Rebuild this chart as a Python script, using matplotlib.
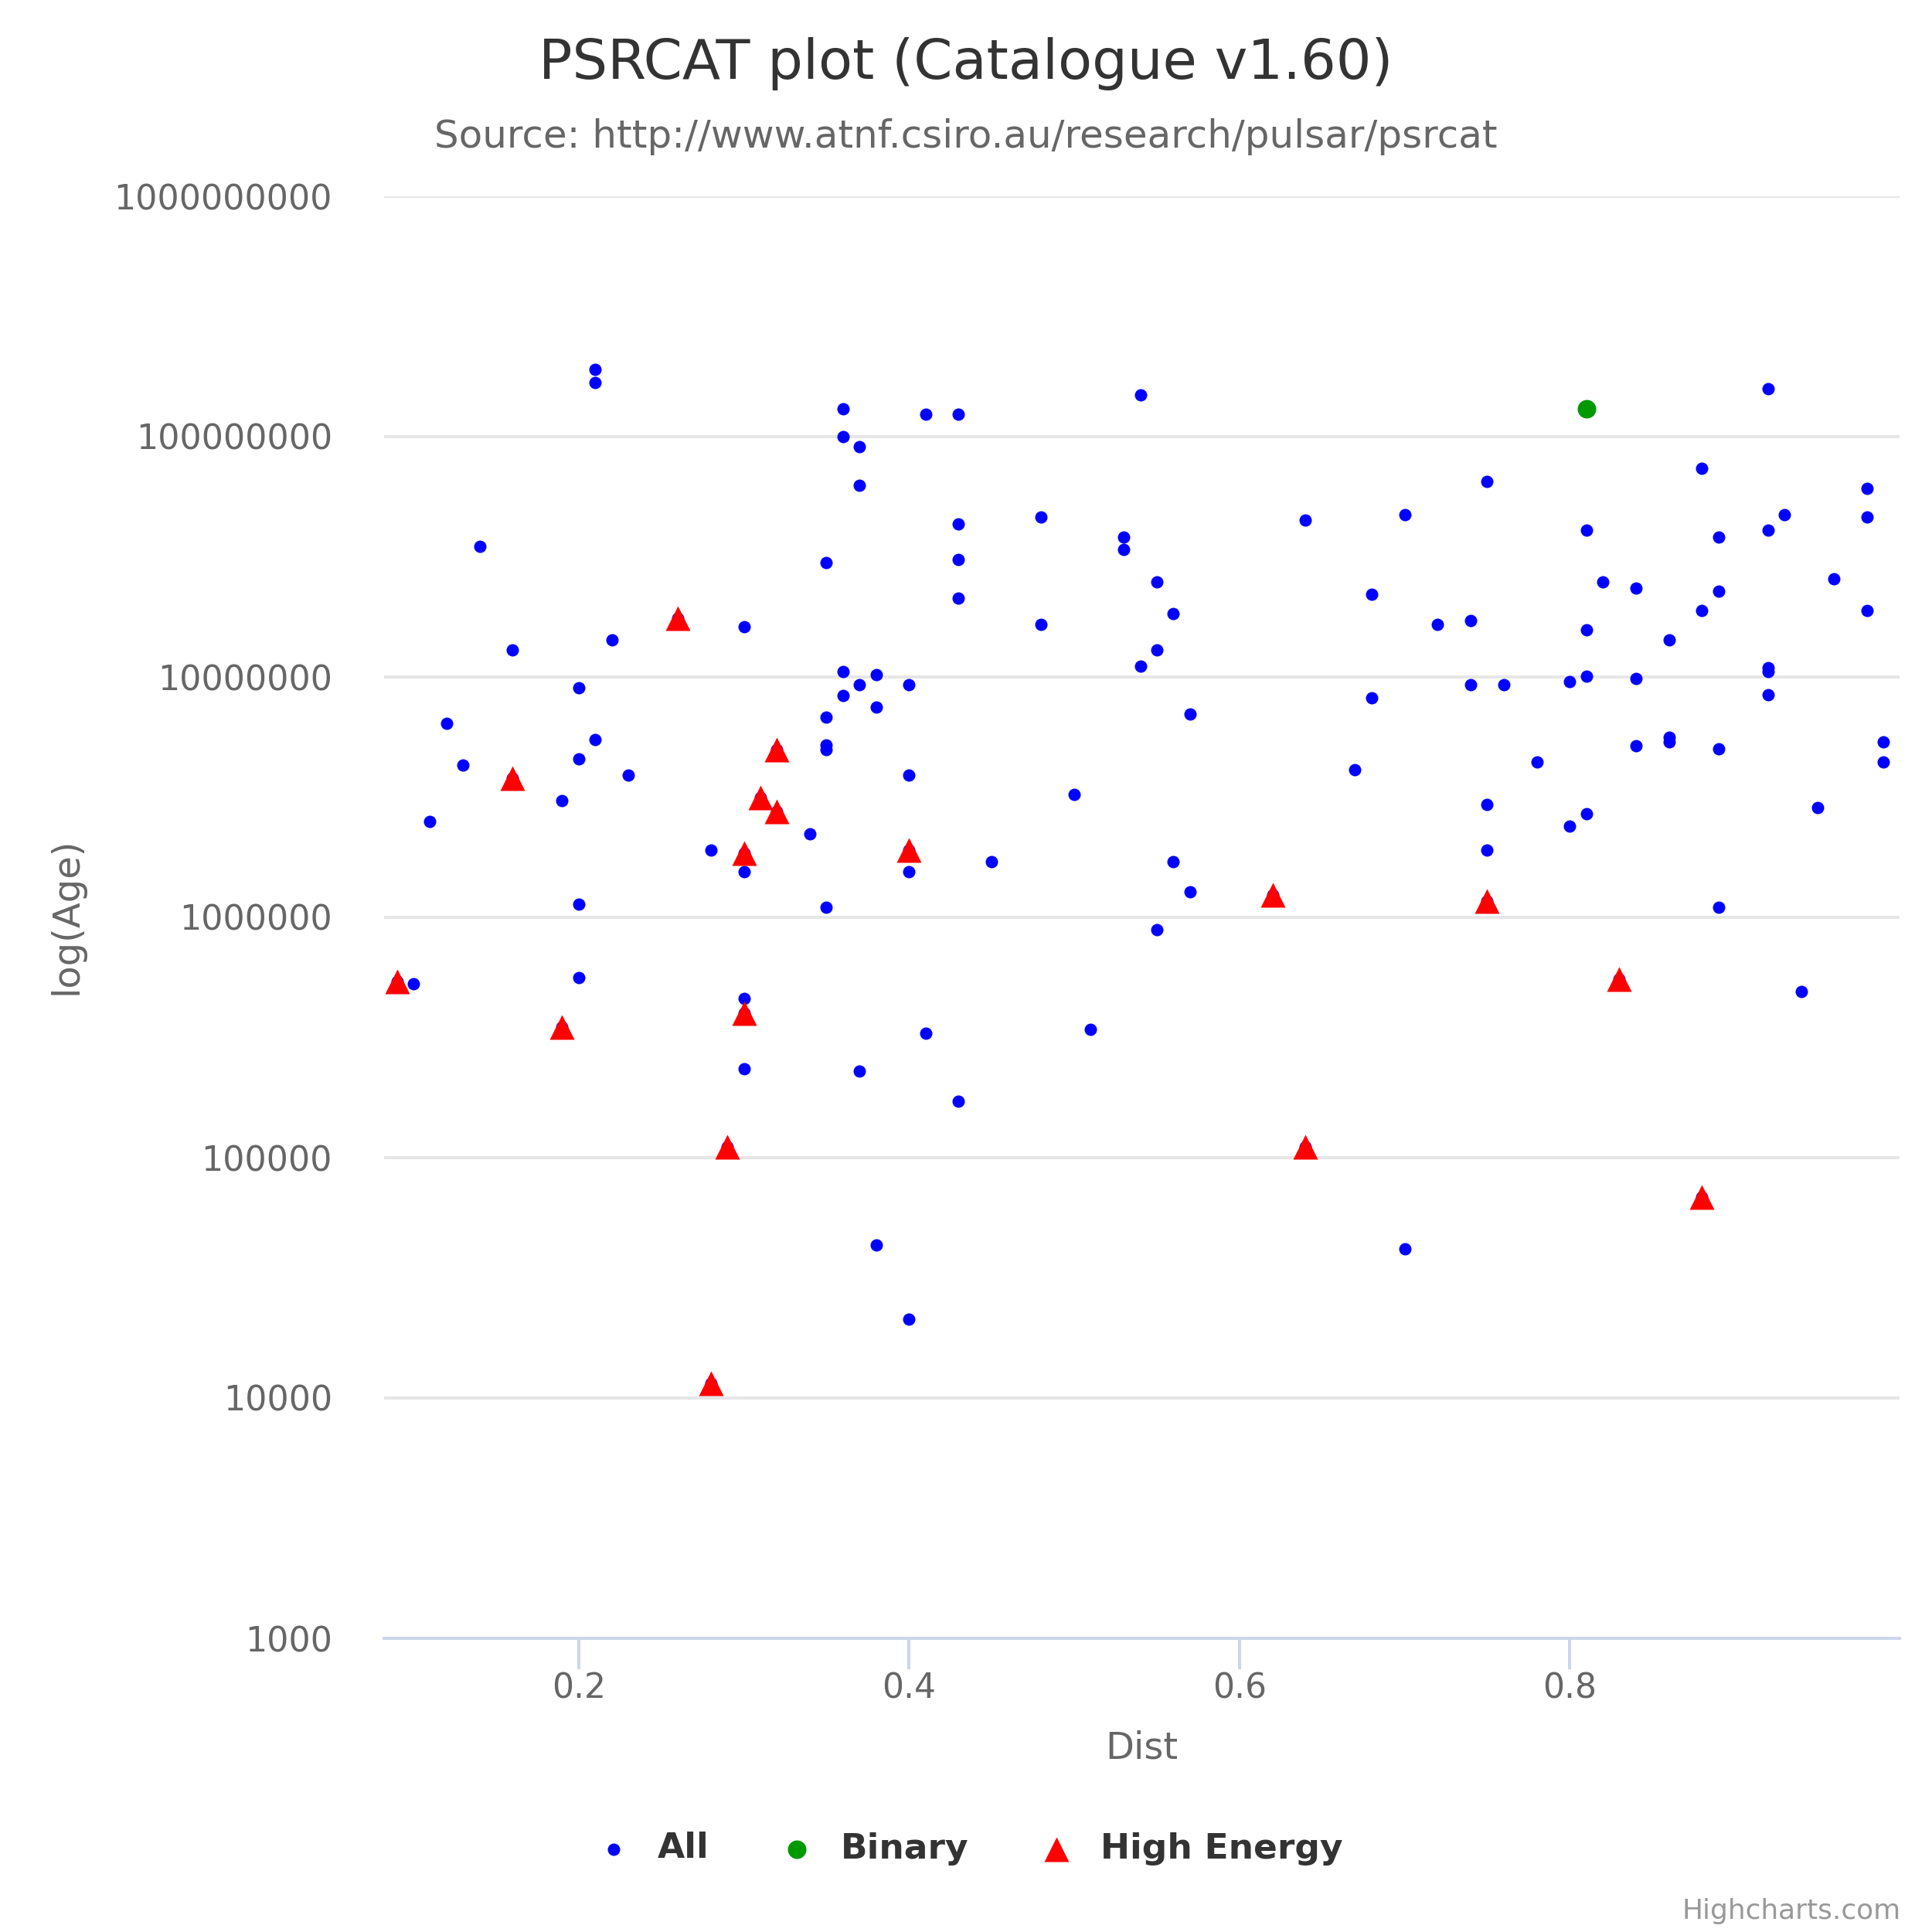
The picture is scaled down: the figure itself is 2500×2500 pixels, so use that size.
import numpy as np
import matplotlib
matplotlib.use("Agg")
import matplotlib.pyplot as plt
from matplotlib.ticker import FixedLocator, FuncFormatter, NullLocator

# data (Dist, Age)
all_dist = [0.09, 0.10, 0.11, 0.12, 0.13, 0.14, 0.16, 0.16, 0.19, 0.19,
            0.20, 0.20, 0.20, 0.20, 0.21, 0.21, 0.21, 0.22, 0.23, 0.26,
            0.28, 0.28, 0.29, 0.30, 0.30, 0.30, 0.30, 0.30, 0.30, 0.31,
            0.32, 0.32, 0.34, 0.35, 0.35, 0.35, 0.35, 0.35, 0.36, 0.36,
            0.36, 0.36, 0.37, 0.37, 0.37, 0.37, 0.38, 0.38, 0.38, 0.40,
            0.40, 0.40, 0.40, 0.40, 0.41, 0.41, 0.43, 0.43, 0.43, 0.43,
            0.43, 0.45, 0.48, 0.48, 0.50, 0.51, 0.53, 0.53, 0.54, 0.54,
            0.55, 0.55, 0.55, 0.56, 0.56, 0.57, 0.57, 0.62, 0.64, 0.64,
            0.67, 0.68, 0.68, 0.70, 0.70, 0.72, 0.74, 0.74, 0.75, 0.75,
            0.75, 0.75, 0.76, 0.78, 0.80, 0.80, 0.81, 0.81, 0.81, 0.81,
            0.81, 0.82, 0.83, 0.84, 0.84, 0.84, 0.86, 0.86, 0.86, 0.88,
            0.88, 0.88, 0.89, 0.89, 0.89, 0.89, 0.92, 0.92, 0.92, 0.92,
            0.92, 0.93, 0.94, 0.95, 0.96, 0.98, 0.98, 0.98, 0.99, 0.99]
all_age = [5.4e5, 5.3e5, 2.5e6, 6.4e6, 4.3e6, 3.5e7, 1.3e7, 3.8e6, 3.05e6, 3.5e5,
           9.0e6, 4.55e6, 1.13e6, 5.6e5, 1.9e8, 1.68e8, 5.47e6, 1.43e7, 3.9e6, 1.76e7,
           1.91e6, 1.15e4, 1.11e5, 1.62e7, 1.85e6, 1.55e6, 4.6e5, 3.98e5, 2.35e5, 3.14e6,
           4.98e6, 2.76e6, 2.23e6, 3.0e7, 6.78e6, 5.2e6, 5.0e6, 1.1e6, 1.31e8, 1.0e8,
           1.05e7, 8.4e6, 9.1e7, 6.27e7, 9.3e6, 2.29e5, 1.02e7, 7.47e6, 4.32e4, 9.3e6,
           3.9e6, 1.91e6, 1.55e6, 2.13e4, 1.24e8, 3.3e5, 1.24e8, 4.33e7, 3.07e7, 2.13e7,
           1.72e5, 1.7e6, 4.64e7, 1.66e7, 3.24e6, 3.41e5, 3.81e7, 3.39e7, 1.49e8, 1.11e7,
           2.48e7, 1.3e7, 8.89e5, 1.83e7, 1.7e6, 7.02e6, 1.28e6, 1.24e6, 4.48e7, 1.11e5,
           4.12e6, 2.21e7, 8.18e6, 4.75e7, 4.18e4, 1.66e7, 1.72e7, 9.3e6, 6.49e7, 2.95e6,
           1.91e6, 1.17e6, 9.3e6, 4.43e6, 9.54e6, 2.39e6, 1.31e8, 4.08e7, 1.57e7, 1.01e7,
           2.7e6, 2.48e7, 5.54e5, 2.34e7, 9.88e6, 5.16e6, 1.43e7, 5.6e6, 5.35e6, 7.36e7,
           1.89e7, 6.85e4, 3.81e7, 2.27e7, 5.01e6, 1.1e6, 1.58e8, 4.08e7, 1.09e7, 1.05e7,
           8.41e6, 4.75e7, 4.92e5, 2.86e6, 2.57e7, 6.09e7, 4.64e7, 1.89e7, 5.35e6, 4.43e6]

binary_dist = [0.81]
binary_age = [1.31e8]

he_dist = [0.09, 0.16, 0.19, 0.26, 0.28, 0.29, 0.30, 0.30, 0.31, 0.32,
           0.32, 0.40, 0.62, 0.64, 0.75, 0.83, 0.88]
he_age = [5.4e5, 3.8e6, 3.5e5, 1.76e7, 1.15e4, 1.11e5, 1.85e6, 3.98e5, 3.14e6, 4.98e6,
          2.76e6, 1.91e6, 1.24e6, 1.11e5, 1.17e6, 5.54e5, 6.85e4]

y_ticks = [1e3, 1e4, 1e5, 1e6, 1e7, 1e8, 1e9]
x_ticks = [0.2, 0.4, 0.6, 0.8]

W = 2500.0
pt = 72 / 250.0  # points per output pixel

plt.rcParams['font.family'] = ['DejaVu Sans']

fig = plt.figure(figsize=(10, 10), dpi=250)
fig.patch.set_facecolor('white')
ax = fig.add_axes([497 / W, 1 - 2120 / W, (2458 - 497) / W, (2120 - 254) / W])

ax.scatter(all_dist, all_age, s=(16 * pt) ** 2, c='#0000ff', marker='o',
           linewidths=0, zorder=3, clip_on=False, label='All')
ax.scatter(binary_dist, binary_age, s=(24 * pt) ** 2, c='#009900', marker='o',
           linewidths=0, zorder=4, clip_on=False, label='Binary')
ax.scatter(he_dist, he_age, s=(32 * pt) ** 2, c='#ff0000', marker='^',
           linewidths=0, zorder=5, clip_on=False, label='High Energy')

ax.set_yscale('log')
ax.set_ylim(1e3, 1e9)
ax.set_xlim(0.0822, 0.9996)

ax.yaxis.set_major_locator(FixedLocator(y_ticks))
ax.yaxis.set_minor_locator(NullLocator())
ax.yaxis.set_major_formatter(FuncFormatter(lambda v, p: '%d' % round(v)))
ax.set_xticks(x_ticks)
ax.xaxis.set_major_formatter(FuncFormatter(lambda v, p: '%g' % v))

ax.grid(axis='y', color='#e6e6e6', linewidth=4 * pt, zorder=0)
ax.set_axisbelow(True)
for side in ['left', 'right', 'top']:
    ax.spines[side].set_visible(False)
ax.spines['bottom'].set_color('#ccd6eb')
ax.spines['bottom'].set_linewidth(4 * pt)
ax.spines['bottom'].set_zorder(2)

ax.tick_params(axis='y', length=0, pad=67 * pt, labelsize=44.5 * pt, labelcolor='#666666')
ax.tick_params(axis='x', length=40 * pt, width=4 * pt, color='#ccd6eb', direction='out',
               pad=3 * pt, labelsize=44 * pt, labelcolor='#666666')

fig.text(0.5, 1 - 102 / W, 'PSRCAT plot (Catalogue v1.60)', ha='center', va='baseline',
         fontsize=72 * pt, color='#333333')
fig.text(0.5, 1 - 191 / W, 'Source: http://www.atnf.csiro.au/research/pulsar/psrcat',
         ha='center', va='baseline', fontsize=50 * pt, color='#666666')
fig.text(1477 / W, 1 - 2276 / W, 'Dist', ha='center', va='baseline',
         fontsize=48 * pt, color='#666666')
fig.text(86 / W, 1 - 1185 / W, 'log(Age)', ha='center', va='center', rotation=90,
         fontsize=48 * pt, color='#666666')
fig.text(2460 / W, 1 - 2483 / W, 'Highcharts.com', ha='right', va='baseline',
         fontsize=36 * pt, color='#999999')

leg = ax.legend(loc='center left', bbox_to_anchor=(771 / W, 1 - 2392 / W),
                bbox_transform=fig.transFigure, ncol=3, frameon=False,
                borderpad=0, borderaxespad=0, handlelength=1.0, handletextpad=0.75,
                columnspacing=2.0, scatterpoints=1,
                prop={'weight': 'bold', 'size': 45.5 * pt})
for t in leg.get_texts():
    t.set_color('#333333')

fig.savefig('out.png', dpi=250)
